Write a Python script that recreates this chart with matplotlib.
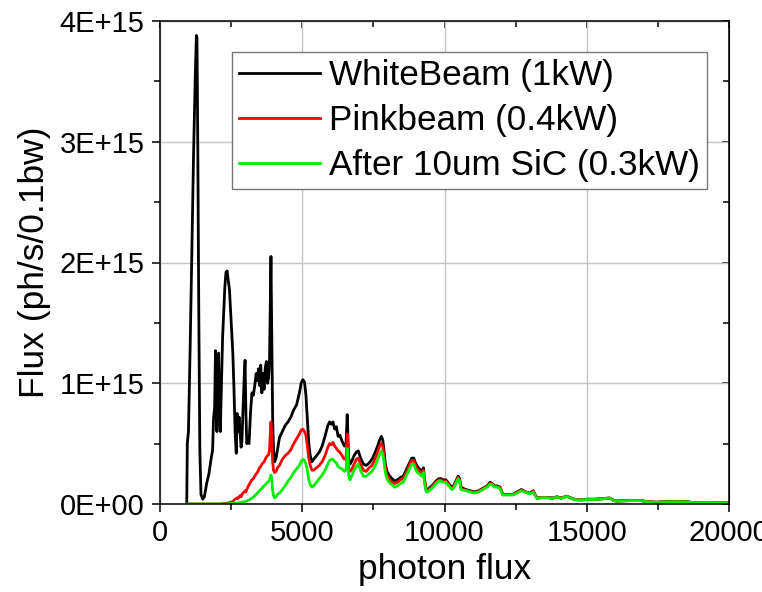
import numpy as np
import matplotlib
matplotlib.use("Agg")
import matplotlib.pyplot as plt
from matplotlib.ticker import MultipleLocator, FuncFormatter

plt.rcParams['font.family'] = ['Liberation Sans', 'DejaVu Sans']

# photon energy grid (x) and flux in units of 1E15 ph/s/0.1bw
energy = [940, 960, 1000, 1060, 1120, 1180, 1240, 1280, 1300, 1330, 1360, 1400, 1440, 1500,
          1560, 1640, 1720, 1800, 1850, 1880, 1920, 1950, 1970, 2000, 2030, 2060, 2090, 2120,
          2160, 2200, 2240, 2280, 2320, 2360, 2400, 2440, 2480, 2520, 2560, 2600, 2640, 2680,
          2710, 2740, 2780, 2820, 2850, 2880, 2920, 2960, 2990, 3020, 3050, 3090, 3130, 3180,
          3230, 3280, 3330, 3380, 3420, 3460, 3500, 3540, 3580, 3620, 3660, 3700, 3740, 3780,
          3820, 3850, 3880, 3900, 3920, 3940, 3960, 3990, 4030, 4080, 4130, 4200, 4300, 4400,
          4500, 4600, 4700, 4800, 4900, 4960, 5020, 5080, 5130, 5180, 5230, 5280, 5340, 5400,
          5500, 5600, 5700, 5800, 5900, 5960, 6020, 6080, 6140, 6200, 6260, 6320, 6400, 6480,
          6540, 6580, 6600, 6630, 6680, 6750, 6820, 6900, 6970, 7050, 7150, 7250, 7350, 7450,
          7550, 7650, 7720, 7780, 7830, 7870, 7920, 7980, 8050, 8150, 8250, 8350, 8450, 8550,
          8650, 8750, 8850, 8920, 8980, 9050, 9120, 9200, 9260, 9300, 9360, 9420, 9500, 9600,
          9700, 9800, 9880, 9950, 10050, 10150, 10250, 10320, 10400, 10480, 10530, 10580, 10650,
          10750, 10900, 11050, 11200, 11350, 11500, 11600, 11680, 11750, 11850, 11950, 12050,
          12150, 12250, 12400, 12550, 12700, 12850, 13000, 13120, 13200, 13260, 13400, 13600,
          13800, 13950, 14100, 14300, 14400, 14550, 14700, 14850, 15000, 15300, 15600, 15800,
          15950, 16050, 16300, 16600, 16900, 17100, 17300, 17450, 17600, 17900, 18200, 18500,
          18700, 18900, 19200, 19500, 19800, 20000]

white = [0, 0.5, 0.6, 1.3, 2.1, 2.9, 3.55, 3.88, 3.86, 2.9, 1.7, 0.45, 0.08, 0.04,
         0.06, 0.17, 0.25, 0.38, 0.45, 0.7, 0.8, 1.27, 0.9, 0.6, 1.0, 1.25, 0.8, 0.6,
         1.0, 1.38, 1.6, 1.8, 1.92, 1.93, 1.85, 1.78, 1.6, 1.42, 1.25, 0.95, 0.6, 0.42,
         0.75, 0.6, 0.72, 0.58, 0.47, 0.52, 0.8, 1.05, 1.19, 0.75, 0.5, 0.52, 0.5, 0.75,
         0.92, 0.9, 0.98, 1.08, 1.02, 1.12, 0.98, 1.15, 0.92, 1.08, 0.95, 1.13, 1.18, 1.0,
         1.05, 1.2, 1.7, 2.05, 1.6, 1.1, 0.7, 0.45, 0.35, 0.38, 0.45, 0.55, 0.6, 0.65,
         0.68, 0.72, 0.78, 0.82, 0.92, 1.0, 1.03, 1.01, 0.9, 0.7, 0.5, 0.4, 0.35, 0.37,
         0.4, 0.43, 0.48, 0.56, 0.65, 0.68, 0.66, 0.68, 0.62, 0.64, 0.56, 0.57, 0.52, 0.48,
         0.5, 0.74, 0.6, 0.38, 0.33, 0.36, 0.4, 0.43, 0.44, 0.38, 0.33, 0.32, 0.34, 0.37,
         0.42, 0.48, 0.53, 0.56, 0.53, 0.45, 0.33, 0.27, 0.24, 0.21, 0.19, 0.2, 0.22, 0.23,
         0.28, 0.33, 0.38, 0.38, 0.34, 0.31, 0.29, 0.27, 0.3, 0.2, 0.12, 0.12, 0.14, 0.16,
         0.19, 0.21, 0.21, 0.2, 0.2, 0.17, 0.14, 0.15, 0.19, 0.23, 0.21, 0.14, 0.13,
         0.12, 0.11, 0.1, 0.11, 0.13, 0.15, 0.18, 0.17, 0.15, 0.15, 0.14, 0.08,
         0.08, 0.08, 0.08, 0.1, 0.12, 0.1, 0.09, 0.11, 0.07, 0.05, 0.055, 0.055,
         0.05, 0.06, 0.05, 0.065, 0.055, 0.04, 0.035, 0.035, 0.04, 0.04, 0.045, 0.05,
         0.03, 0.025, 0.027, 0.03, 0.03, 0.02, 0.018, 0.015, 0.018, 0.02, 0.02, 0.02,
         0.013, 0.012, 0.014, 0.012, 0.01, 0.01]

pink = [0, 0, 0, 0, 0, 0, 0, 0, 0, 0, 0, 0, 0, 0,
        0, 0, 0, 0, 0, 0, 0, 0, 0, 0, 0, 0, 0, 0.001,
        0.002, 0.003, 0.004, 0.005, 0.006, 0.007, 0.009, 0.011, 0.014, 0.018, 0.022, 0.03, 0.04, 0.045,
        0.05, 0.045, 0.06, 0.07, 0.06, 0.08, 0.09, 0.1, 0.11, 0.1, 0.12, 0.14, 0.16, 0.18,
        0.2, 0.21, 0.23, 0.25, 0.26, 0.28, 0.3, 0.31, 0.33, 0.34, 0.35, 0.37, 0.39, 0.4,
        0.41, 0.45, 0.6, 0.68, 0.6, 0.45, 0.35, 0.28, 0.26, 0.27, 0.3, 0.32, 0.37, 0.4,
        0.42, 0.45, 0.5, 0.54, 0.58, 0.61, 0.62, 0.6, 0.57, 0.48, 0.38, 0.32, 0.28, 0.28,
        0.3, 0.32, 0.35, 0.4, 0.47, 0.5, 0.49, 0.51, 0.48, 0.46, 0.44, 0.43, 0.4, 0.37,
        0.38, 0.58, 0.5, 0.3, 0.27, 0.29, 0.33, 0.37, 0.38, 0.33, 0.28, 0.27, 0.3, 0.32,
        0.37, 0.43, 0.48, 0.5, 0.48, 0.4, 0.3, 0.24, 0.21, 0.18, 0.17, 0.18, 0.2, 0.21,
        0.26, 0.31, 0.36, 0.36, 0.32, 0.29, 0.27, 0.25, 0.28, 0.18, 0.11, 0.11, 0.13, 0.15,
        0.18, 0.2, 0.2, 0.19, 0.19, 0.16, 0.13, 0.14, 0.18, 0.22, 0.2, 0.13, 0.12,
        0.115, 0.105, 0.095, 0.105, 0.125, 0.145, 0.17, 0.165, 0.145, 0.145, 0.135, 0.077,
        0.077, 0.077, 0.077, 0.095, 0.115, 0.097, 0.087, 0.105, 0.067, 0.048, 0.053, 0.053,
        0.048, 0.058, 0.048, 0.063, 0.053, 0.039, 0.034, 0.034, 0.039, 0.039, 0.044, 0.049,
        0.029, 0.024, 0.026, 0.029, 0.029, 0.019, 0.017, 0.014, 0.017, 0.019, 0.019, 0.019,
        0.012, 0.011, 0.013, 0.011, 0.01, 0.01]

sic = [0, 0, 0, 0, 0, 0, 0, 0, 0, 0, 0, 0, 0, 0,
       0, 0, 0, 0, 0, 0, 0, 0, 0, 0, 0, 0, 0, 0,
       0, 0, 0, 0, 0.001, 0.001, 0.001, 0.002, 0.002, 0.003, 0.003, 0.004, 0.005, 0.006,
       0.007, 0.008, 0.01, 0.011, 0.012, 0.014, 0.016, 0.018, 0.02, 0.022, 0.025, 0.03, 0.033, 0.04,
       0.05, 0.055, 0.07, 0.08, 0.09, 0.1, 0.11, 0.12, 0.13, 0.14, 0.15, 0.16, 0.17, 0.18,
       0.19, 0.2, 0.22, 0.24, 0.22, 0.17, 0.11, 0.07, 0.05, 0.06, 0.08, 0.09, 0.12, 0.15,
       0.19, 0.22, 0.26, 0.29, 0.32, 0.35, 0.37, 0.36, 0.33, 0.28, 0.2, 0.16, 0.14, 0.15,
       0.18, 0.21, 0.24, 0.28, 0.33, 0.36, 0.37, 0.37, 0.35, 0.34, 0.31, 0.3, 0.29, 0.27,
       0.28, 0.46, 0.42, 0.24, 0.2, 0.24, 0.28, 0.31, 0.33, 0.28, 0.23, 0.23, 0.25, 0.27,
       0.31, 0.37, 0.41, 0.44, 0.42, 0.35, 0.26, 0.21, 0.18, 0.16, 0.14, 0.15, 0.17, 0.18,
       0.23, 0.28, 0.33, 0.33, 0.29, 0.26, 0.25, 0.23, 0.26, 0.17, 0.1, 0.1, 0.12, 0.14,
       0.17, 0.19, 0.19, 0.18, 0.18, 0.15, 0.12, 0.13, 0.17, 0.21, 0.19, 0.12, 0.115,
       0.11, 0.1, 0.09, 0.1, 0.12, 0.14, 0.165, 0.16, 0.14, 0.14, 0.13, 0.075,
       0.075, 0.075, 0.075, 0.09, 0.11, 0.095, 0.085, 0.1, 0.065, 0.047, 0.052, 0.052,
       0.047, 0.057, 0.047, 0.062, 0.052, 0.038, 0.033, 0.033, 0.038, 0.038, 0.043, 0.048,
       0.028, 0.023, 0.025, 0.028, 0.028, 0.018, 0.016, 0.014, 0.016, 0.018, 0.018, 0.018,
       0.012, 0.011, 0.013, 0.011, 0.01, 0.01]

labels = ['WhiteBeam (1kW)', 'Pinkbeam (0.4kW)', 'After 10um SiC (0.3kW)']
colors = ['#000000', '#ff0000', '#00ee00']

fig = plt.figure(figsize=(7.62, 5.92), dpi=100)
ax = fig.add_axes([160/762, 1-504/592, 569/762, 483/592])

x = np.array(energy)
for y, lab, c in zip([white, pink, sic], labels, colors):
    ax.plot(x, np.array(y)*1e15, color=c, lw=2.0, label=lab)

ax.set_xlim(0, 20000)
ax.set_ylim(0, 4e15)
ax.xaxis.set_major_locator(MultipleLocator(5000))
ax.xaxis.set_minor_locator(MultipleLocator(2500))
ax.yaxis.set_major_locator(MultipleLocator(1e15))
ax.yaxis.set_minor_locator(MultipleLocator(0.5e15))
ax.yaxis.set_major_formatter(FuncFormatter(lambda v, p: '{:.0E}'.format(v)))
ax.grid(True, which='major', color='#c4c4c4', lw=1)
ax.set_axisbelow(True)

ax.tick_params(which='both', direction='out', labelsize=21, width=1.1, pad=5)
ax.tick_params(which='major', length=6)
ax.tick_params(which='minor', length=4)
for s in ax.spines.values():
    s.set_linewidth(1.1)

# mirrored ticks on top/right, pointing inward
top = ax.secondary_xaxis('top')
top.xaxis.set_major_locator(MultipleLocator(5000))
top.xaxis.set_minor_locator(MultipleLocator(2500))
top.tick_params(which='both', direction='in', labeltop=False, width=1.1)
top.tick_params(which='major', length=5)
top.tick_params(which='minor', length=4)
right = ax.secondary_yaxis('right')
right.yaxis.set_major_locator(MultipleLocator(1e15))
right.yaxis.set_minor_locator(MultipleLocator(0.5e15))
right.tick_params(which='both', direction='in', labelright=False, width=1.1)
right.tick_params(which='major', length=5)
right.tick_params(which='minor', length=4)

ax.set_xlabel('photon flux', fontsize=25.5, labelpad=4)
ax.set_ylabel('Flux (ph/s/0.1bw)', fontsize=25.5, labelpad=6)

leg = ax.legend(loc='upper left', bbox_to_anchor=((232-160)/569, (504-52)/483),
                borderaxespad=0, fontsize=25.3, handlelength=2.3, handletextpad=0.26,
                labelspacing=0.34, borderpad=0.2, fancybox=False, framealpha=1)
leg.get_frame().set_edgecolor('#777777')
leg.get_frame().set_linewidth(1)

fig.savefig('out.png', dpi=100)
